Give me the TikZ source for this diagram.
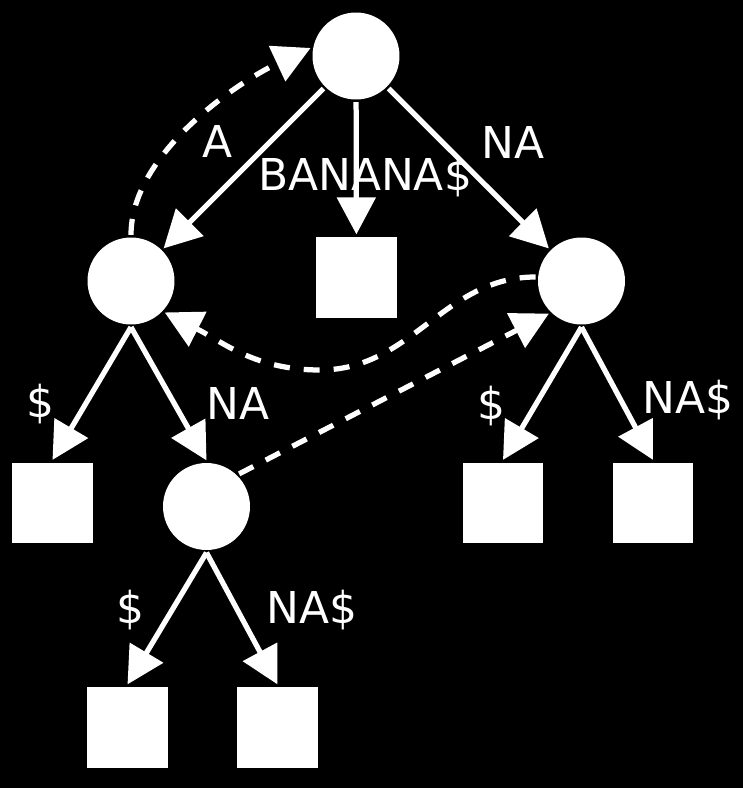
\documentclass[tikz,border=0pt]{standalone}
\usepackage{fontspec}
\setmainfont{DejaVu Sans}
\usetikzlibrary{arrows.meta}
\definecolor{cbg}{HTML}{000000}
\definecolor{cfg}{HTML}{FFFFFF}
\tikzset{
  every picture/.style={line width=0.105cm},
  inner/.style={circle, fill=cfg, minimum size=1.74cm, inner sep=0pt},
  leaf/.style={rectangle, fill=cfg, minimum size=1.62cm, inner sep=0pt},
  edge/.style={-{Triangle[length=0.74cm, width=0.76cm]}, draw=cfg},
  link/.style={edge, dash pattern=on 0.32cm off 0.28cm},
  lab/.style={text=cfg, font=\fontsize{25}{30}\selectfont, anchor=base, inner sep=0pt},
}

\begin{document}
\begin{tikzpicture}[x=0.02cm, y=0.02cm]
  \fill[cbg] (0,0) rectangle (743,-788);
  % inner nodes
  \node[inner] (root) at (356,-56) {};
  \node[inner] (nA) at (131,-281) {};
  \node[inner] (nNA) at (581.5,-281) {};
  \node[inner] (nANA) at (206.5,-506.5) {};
  % leaves
  \node[leaf] (s0) at (356.5,-277.5) {};
  \node[leaf] (s5) at (52.5,-503) {};
  \node[leaf] (s4) at (503,-503) {};
  \node[leaf] (s2) at (653,-503) {};
  \node[leaf] (s3) at (127.5,-727.5) {};
  \node[leaf] (s1) at (277.5,-727.5) {};
  % tree edges
  \draw[edge] (root) -- (nA);
  \draw[edge] (root) -- (s0);
  \draw[edge] (root) -- (nNA);
  \draw[edge] (nA.south) -- (s5.north);
  \draw[edge] (nA.south) -- (nANA.north);
  \draw[edge] (nNA.south) -- (s4.north);
  \draw[edge] (nNA.south) -- (s2.north);
  \draw[edge] (nANA.south) -- (s3.north);
  \draw[edge] (nANA.south) -- (s1.north);
  % suffix links
  \coordinate (dip) at (320,-370);
  \draw[link] (nA.north) to[out=90, in=205, looseness=0.8] (root.170);
  \draw[link] (nNA.175) to[out=180, in=0] (dip) to[out=180, in=-27] (nA.-43);
  \draw[link] (nANA.45) -- (nNA.225);
  % edge labels
  \node[lab] (tA) at (218,-157) {A};
  \node[lab] (tBan) at (365,-190) {BANANA\$};
  \node[lab] (tNA) at (513,-158) {NA};
  \node[lab] (tD1) at (40,-417) {\$};
  \node[lab] (tNA2) at (238,-419) {NA};
  \node[lab] (tD2) at (491,-419) {\$};
  \node[lab] (tNAD1) at (688,-413) {NA\$};
  \node[lab] (tD3) at (130,-623) {\$};
  \node[lab] (tNAD2) at (312,-623) {NA\$};
\end{tikzpicture}
\end{document}
